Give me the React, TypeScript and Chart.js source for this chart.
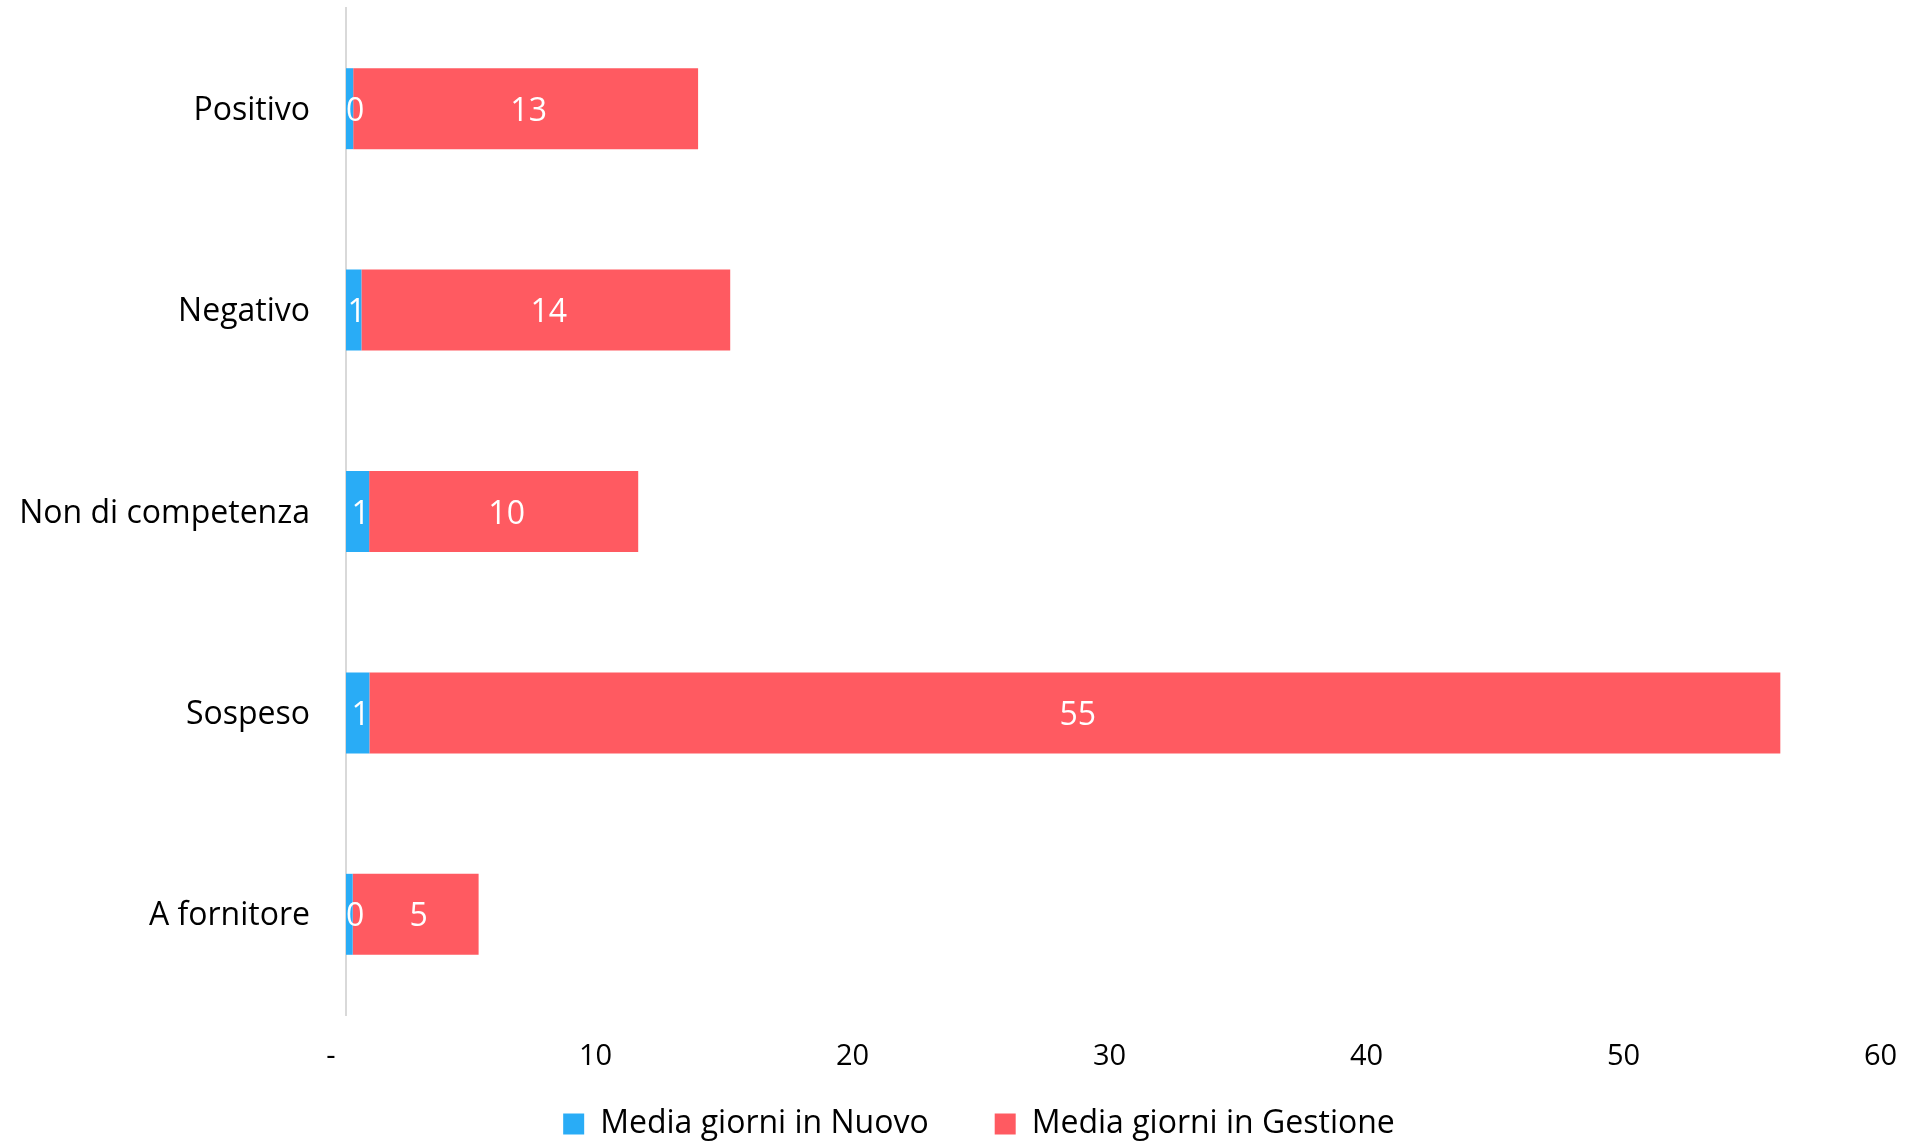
import React, { useEffect, useRef } from "react";
import { Chart, registerables } from "chart.js";

Chart.register(...registerables);

const categories = ["Positivo", "Negativo", "Non di competenza", "Sospeso", "A fornitore"];
const nuovoValues = [0.28, 0.6, 0.9, 0.91, 0.26];
const gestioneValues = [13.42, 14.35, 10.47, 54.9, 4.9];
const seriesNames = ["Media giorni in Nuovo", "Media giorni in Gestione"];
const xTicks = [0, 10, 20, 30, 40, 50, 60];

const BLUE = "#29ACF6";
const RED = "#FF5A61";
const FONT = "'Open Sans', sans-serif";
const LEGEND_FONT_SIZE = 32;
const LEGEND_PADDING = 66;

const dataLabelPlugin = {
  id: "dataLabels",
  afterDatasetsDraw(chart: any) {
    const ctx = chart.ctx;
    const area = chart.chartArea;
    ctx.save();
    ctx.font = `32px ${FONT}`;
    ctx.fillStyle = "#FFFFFF";
    ctx.textAlign = "center";
    ctx.textBaseline = "middle";
    chart.data.datasets.forEach((ds: any, di: number) => {
      const meta = chart.getDatasetMeta(di);
      meta.data.forEach((bar: any, i: number) => {
        const txt = String(Math.round(ds.data[i]));
        const w = ctx.measureText(txt).width;
        let x = (bar.x + bar.base) / 2 + 3;
        if (x - w / 2 < area.left) x = area.left + w / 2;
        ctx.fillText(txt, x, bar.y + 3);
      });
    });
    ctx.restore();
  },
};

// place the legend like the reference: text centred at y≈1123, row centred at x≈981
const legendPlacePlugin = {
  id: "legendPlace",
  afterLayout(chart: any) {
    const lg = chart.legend;
    if (!lg) return;
    const targetTop = 1124 - LEGEND_FONT_SIZE / 2 - LEGEND_PADDING;
    lg.top = targetTop;
    lg.bottom = chart.height;
    lg.height = lg.bottom - lg.top;
    const dx = 979 - (lg.left + lg.right) / 2;
    lg.left += dx;
    lg.right += dx;
  },
};

export default function App() {
  const canvasRef = useRef<HTMLCanvasElement | null>(null);

  useEffect(() => {
    document.body.style.margin = "0";
    const canvas = canvasRef.current;
    if (!canvas) return;
    const chart = new Chart(canvas, {
      type: "bar",
      data: {
        labels: categories,
        datasets: [
          {
            label: seriesNames[0],
            data: nuovoValues,
            backgroundColor: BLUE,
            borderWidth: 0,
            barPercentage: 0.402,
            categoryPercentage: 1,
          },
          {
            label: seriesNames[1],
            data: gestioneValues,
            backgroundColor: RED,
            borderWidth: 0,
            barPercentage: 0.402,
            categoryPercentage: 1,
          },
        ],
      },
      options: {
        indexAxis: "y",
        animation: false,
        responsive: false,
        maintainAspectRatio: false,
        devicePixelRatio: 1,
        layout: { padding: { left: 10, right: 30, top: 8, bottom: 0 } },
        scales: {
          x: {
            stacked: true,
            min: 0,
            max: 60,
            afterBuildTicks: (scale: any) => {
              scale.ticks = xTicks.map((v) => ({ value: v }));
            },
            afterFit: (scale: any) => {
              scale.height = 80;
              scale.paddingLeft = 0;
              scale.paddingRight = 0;
            },
            grid: { display: false, drawTicks: false, tickLength: 0 },
            border: { display: false },
            ticks: {
              padding: 24,
              maxRotation: 0,
              color: "#000000",
              font: { family: FONT, size: 29 },
              callback: (v: any) => (Number(v) === 0 ? "-    " : String(v) + "  "),
            },
          },
          y: {
            stacked: true,
            afterFit: (scale: any) => {
              scale.width = 336;
              scale.paddingTop = 0;
              scale.paddingBottom = 0;
            },
            grid: { display: false, drawTicks: false, tickLength: 0 },
            border: { display: true, color: "#D9D9D9", width: 2 },
            ticks: {
              padding: 36,
              labelOffset: 2,
              color: "#000000",
              font: { family: FONT, size: 32 },
            },
          },
        },
        plugins: {
          legend: {
            position: "bottom",
            maxHeight: 49,
            labels: {
              boxWidth: 21,
              boxHeight: 21,
              padding: LEGEND_PADDING,
              color: "#000000",
              font: { family: FONT, size: LEGEND_FONT_SIZE },
            },
          },
          tooltip: { enabled: false },
        },
      },
      plugins: [dataLabelPlugin, legendPlacePlugin],
    } as any);
    return () => chart.destroy();
  }, []);

  return (
    <div style={{ width: 1918, height: 1144, background: "#FFFFFF" }}>
      <canvas ref={canvasRef} width={1918} height={1144} style={{ display: "block", width: 1918, height: 1144 }} />
    </div>
  );
}
